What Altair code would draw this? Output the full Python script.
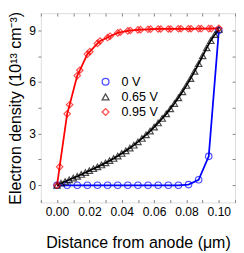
import altair as alt
import pandas as pd

# ---- data ----
series_names = ["0 V", "0.65 V", "0.95 V"]
series_colors = ["#0000ff", "#000000", "#ff0000"]
series_shapes = ["circle", "triangle-up", "diamond"]

x_0v = [0.0, 0.00625, 0.0125, 0.01875, 0.025, 0.03125, 0.0375, 0.04375, 0.05,
        0.05625, 0.0625, 0.06875, 0.075, 0.08125, 0.0875, 0.09375, 0.1]
y_0v = [0, 0, 0, 0, 0, 0, 0, 0, 0, 0, 0, 0, 0, 0.04, 0.32, 1.68, 9.0]

x_065 = [0.0, 0.0025, 0.005, 0.0075, 0.01, 0.0125, 0.015, 0.0175, 0.02, 0.0225,
         0.025, 0.0275, 0.03, 0.0325, 0.035, 0.0375, 0.04, 0.0425, 0.045, 0.0475,
         0.05, 0.0525, 0.055, 0.0575, 0.06, 0.0625, 0.065, 0.0675, 0.07, 0.0725,
         0.075, 0.0775, 0.08, 0.0825, 0.085, 0.0875, 0.09, 0.0925, 0.095, 0.0975, 0.1]
y_065 = [0.0, 0.12, 0.22, 0.32, 0.42, 0.52, 0.63, 0.74, 0.85, 0.96,
         1.07, 1.18, 1.30, 1.43, 1.56, 1.70, 1.85, 2.00, 2.16, 2.33,
         2.52, 2.72, 2.93, 3.15, 3.38, 3.62, 3.88, 4.15, 4.44, 4.75,
         5.08, 5.43, 5.80, 6.20, 6.62, 7.06, 7.52, 7.98, 8.40, 8.75, 9.05]

x_095 = [0.0, 0.0016, 0.00625, 0.0078, 0.0125, 0.0141, 0.01875, 0.0203, 0.025, 0.0266,
         0.03125, 0.0328, 0.0375, 0.0391, 0.04375, 0.0453, 0.05, 0.0516, 0.05625, 0.0578,
         0.0625, 0.0641, 0.06875, 0.0703, 0.075, 0.0766, 0.08125, 0.0828, 0.0875, 0.0891,
         0.09375, 0.0953, 0.1]
y_095 = [0.0, 1.07, 4.15, 4.68, 6.37, 6.68, 7.62, 7.76, 8.24, 8.38,
         8.58, 8.66, 8.85, 8.89, 8.97, 8.99, 9.03, 9.04, 9.06, 9.07,
         9.08, 9.08, 9.08, 9.08, 9.09, 9.09, 9.09, 9.09, 9.10, 9.10,
         9.10, 9.10, 9.12]

x_ticks = [-0.01, 0.0, 0.01, 0.02, 0.03, 0.04, 0.05, 0.06, 0.07, 0.08, 0.09, 0.10, 0.11]
y_ticks = [0, 1.5, 3, 4.5, 6, 7.5, 9]

rows = []
for name, xs_, ys_ in zip(series_names, [x_0v, x_065, x_095], [y_0v, y_065, y_095]):
    for a, b in zip(xs_, ys_):
        rows.append({"x": a, "y": b, "series": name})
df = pd.DataFrame(rows)

FONT = "Liberation Sans"
GRAY = "#808080"
W, H = 201, 196

xscale = alt.Scale(domain=[-0.01, 0.11], nice=False, zero=False)
yscale = alt.Scale(domain=[-1, 10], nice=False, zero=False)
cscale = alt.Scale(domain=series_names, range=series_colors)
sscale = alt.Scale(domain=series_names, range=series_shapes)

x_bottom = alt.Axis(
    orient="bottom", values=x_ticks, offset=-3, tickSize=3, tickColor=GRAY,
    domain=False, grid=False, labelOverlap=False,
    labelExpr="abs(round(datum.value*100)) % 2 == 1 ? '' : format(datum.value, '.2f')",
    labelPadding=4, labelFontSize=12.5, labelFont=FONT, labelColor="black",
    title="Distance from anode (μm)", titleFont=FONT, titleFontSize=16.5,
    titleFontWeight="normal", titleColor="black", titleBaseline="alphabetic",
    titleY=50,
)
y_left = alt.Axis(
    orient="left", values=y_ticks, tickSize=3, tickColor=GRAY,
    domain=False, grid=False, labelOverlap=False,
    labelExpr="datum.value % 3 == 0 ? format(datum.value, 'd') : ''",
    labelPadding=2.5, labelFontSize=12.5, labelFont=FONT, labelColor="black",
    title="Electron density (10¹³ cm⁻³)", titleFont=FONT, titleFontSize=16.5,
    titleFontWeight="normal", titleColor="black", titleBaseline="alphabetic",
    titleX=-21.5,
)
x_top = alt.Axis(orient="top", values=x_ticks, offset=-3, tickSize=3, tickColor=GRAY,
                 domain=False, grid=False, labels=False, title=None)
y_right = alt.Axis(orient="right", values=y_ticks, offset=-3, tickSize=3, tickColor=GRAY,
                   domain=False, grid=False, labels=False, title=None)

layers = []
for i, (name, col) in enumerate(zip(series_names, series_colors)):
    enc_x = alt.X("x:Q", scale=xscale, axis=x_bottom if i == 0 else None)
    enc_y = alt.Y("y:Q", scale=yscale, axis=y_left if i == 0 else None)
    layers.append(
        alt.Chart(df).transform_filter(alt.datum.series == name)
        .mark_line(strokeWidth=1.8, color=col)
        .encode(x=enc_x, y=enc_y)
    )

legend_kw = dict(
    title=None, orient="none", legendX=60.5, legendY=64.5, padding=0,
    symbolSize=50, symbolStrokeWidth=1.3, labelFontSize=13, labelFont=FONT,
    labelColor="black", labelOffset=10, rowPadding=1.7,
)

points = alt.Chart(df).mark_point(filled=False, strokeWidth=1.2, size=45).encode(
    x=alt.X("x:Q", scale=xscale, axis=None),
    y=alt.Y("y:Q", scale=yscale, axis=None),
    color=alt.Color("series:N", scale=cscale, legend=alt.Legend(**legend_kw)),
    shape=alt.Shape("series:N", scale=sscale, legend=alt.Legend(**legend_kw)),
)
layers.append(points)

frame_axes = alt.Chart(df).mark_point(opacity=0).encode(
    x=alt.X("x:Q", scale=xscale, axis=x_top),
    y=alt.Y("y:Q", scale=yscale, axis=y_right),
)
layers.append(frame_axes)

chart = alt.layer(*layers).resolve_axis(
    x="independent", y="independent"
).properties(
    width=W, height=H,
    autosize=alt.AutoSizeParams(type="none"),
    padding={"left": 34, "top": 1, "right": 1, "bottom": 48},
).configure_view(stroke=GRAY, strokeWidth=1.3).configure(background="white")

chart.save("out.html", embed_options={"renderer": "svg", "actions": False})
